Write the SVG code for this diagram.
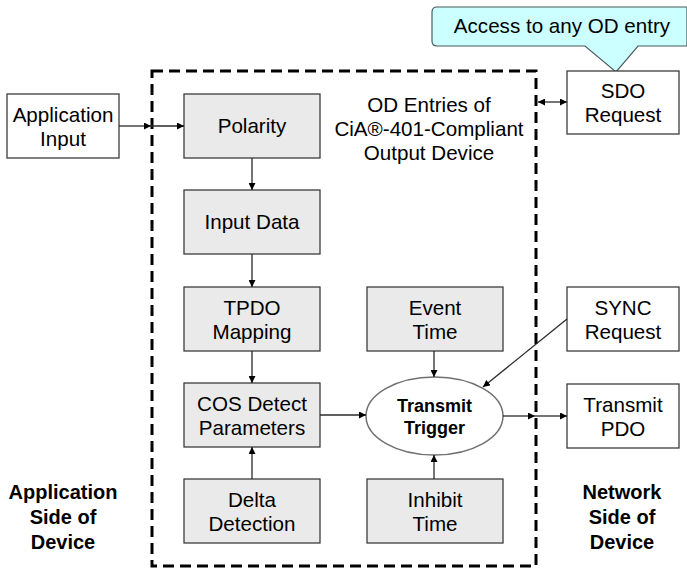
<svg xmlns="http://www.w3.org/2000/svg" width="687" height="569" viewBox="0 0 687 569">
<defs>
<marker id="ah" viewBox="0 0 10 10" refX="10" refY="5" markerWidth="7" markerHeight="7" markerUnits="userSpaceOnUse" orient="auto-start-reverse">
<path d="M0,0 L10,5 L0,10 z" fill="#000"/>
</marker>
<style>
.t{font-family:"Liberation Sans",Arial,sans-serif;font-size:20.6px;fill:#000;text-anchor:middle}
.b{font-family:"Liberation Sans",Arial,sans-serif;font-size:20px;font-weight:bold;fill:#000;text-anchor:middle}
.eb{font-family:"Liberation Sans",Arial,sans-serif;font-size:18px;font-weight:bold;fill:#000;text-anchor:middle}
.g{fill:#eaeaea;stroke:#3c3c3c;stroke-width:1.3}
.w{fill:#fff;stroke:#3c3c3c;stroke-width:1.3}
.c{stroke:#2a2a2a;stroke-width:1.3;fill:none;marker-end:url(#ah)}
</style>
</defs>
<rect width="687" height="569" fill="#fff"/>
<rect id="device" x="152" y="71" width="384" height="495" fill="none" stroke="#000" stroke-width="3" stroke-dasharray="11,6"/>
<g id="callout">
<path d="M437,7 H687 V46 H638 L616,72 L585,46 H437 Q432,46 432,41 V12 Q432,7 437,7 Z" fill="#ccffff" stroke="#4a5a5a" stroke-width="1.2"/>
<text class="t" x="562" y="33">Access to any OD entry</text>
</g>
<g id="odtitle">
<text class="t" x="429" y="112">OD Entries of</text>
<text class="t" x="429" y="136">CiA®-401-Compliant</text>
<text class="t" x="429" y="160">Output Device</text>
</g>
<g id="appinput"><rect class="w" x="7" y="94" width="112" height="64"/><text class="t" x="63" y="121.5">Application</text><text class="t" x="63" y="145.5">Input</text></g>
<g id="polarity"><rect class="g" x="184" y="94" width="136" height="64"/><text class="t" x="252" y="133">Polarity</text></g>
<g id="inputdata"><rect class="g" x="184" y="190" width="136" height="64"/><text class="t" x="252" y="229">Input Data</text></g>
<g id="tpdo"><rect class="g" x="184" y="287" width="136" height="64"/><text class="t" x="252" y="314.5">TPDO</text><text class="t" x="252" y="338.5">Mapping</text></g>
<g id="cos"><rect class="g" x="184" y="383" width="136" height="64"/><text class="t" x="252" y="410.5">COS Detect</text><text class="t" x="252" y="434.5">Parameters</text></g>
<g id="delta"><rect class="g" x="184" y="479" width="136" height="64"/><text class="t" x="252" y="506.5">Delta</text><text class="t" x="252" y="530.5">Detection</text></g>
<g id="eventtime"><rect class="g" x="367" y="287" width="136" height="64"/><text class="t" x="435" y="314.5">Event</text><text class="t" x="435" y="338.5">Time</text></g>
<g id="inhibit"><rect class="g" x="367" y="479" width="136" height="64"/><text class="t" x="435" y="506.5">Inhibit</text><text class="t" x="435" y="530.5">Time</text></g>
<g id="trigger"><ellipse cx="434.5" cy="416" rx="68.5" ry="39" fill="#fff" stroke="#707070" stroke-width="1.5"/><text class="eb" x="434.5" y="411.5">Transmit</text><text class="eb" x="434.5" y="434">Trigger</text></g>
<g id="sdo"><rect class="w" x="567" y="71" width="112" height="63"/><text class="t" x="623" y="97.5">SDO</text><text class="t" x="623" y="121.5">Request</text></g>
<g id="sync"><rect class="w" x="567" y="287" width="112" height="64"/><text class="t" x="623" y="314.5">SYNC</text><text class="t" x="623" y="338.5">Request</text></g>
<g id="tpdo-out"><rect class="w" x="567" y="384" width="112" height="64"/><text class="t" x="623" y="411.5">Transmit</text><text class="t" x="623" y="435.5">PDO</text></g>
<g id="sidelabels">
<text class="b" x="63" y="499">Application</text><text class="b" x="63" y="524">Side of</text><text class="b" x="63" y="549">Device</text>
<text class="b" x="622" y="499">Network</text><text class="b" x="622" y="524">Side of</text><text class="b" x="622" y="549">Device</text>
</g>
<g id="connectors">
<line class="c" x1="119" y1="126" x2="151" y2="126"/>
<line class="c" x1="151" y1="126" x2="184" y2="126"/>
<line class="c" x1="252" y1="158" x2="252" y2="190"/>
<line class="c" x1="252" y1="254" x2="252" y2="287"/>
<line class="c" x1="252" y1="351" x2="252" y2="383"/>
<line class="c" x1="252" y1="479" x2="252" y2="447"/>
<line class="c" x1="320" y1="415" x2="366" y2="415"/>
<line class="c" x1="434" y1="351" x2="434" y2="377"/>
<line class="c" x1="434" y1="479" x2="434" y2="455"/>
<line class="c" x1="567" y1="319" x2="483" y2="387"/>
<line class="c" x1="503" y1="416" x2="535" y2="416"/>
<line class="c" x1="535" y1="416" x2="567" y2="416"/>
<line class="c" x1="538" y1="102" x2="567" y2="102" style="marker-start:url(#ah)"/>
</g>
</svg>
